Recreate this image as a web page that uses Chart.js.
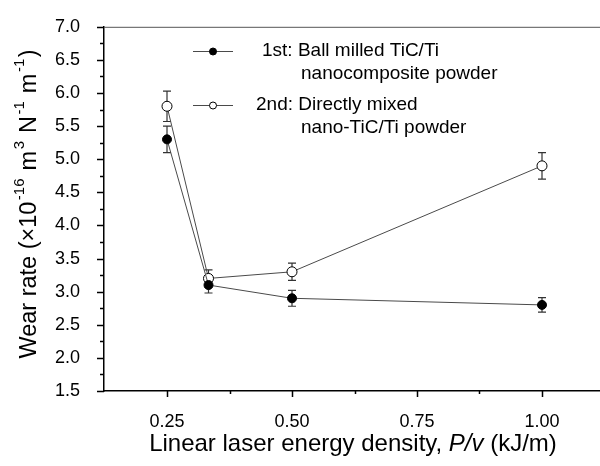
<!DOCTYPE html>
<html>
<head>
<meta charset="utf-8">
<script src="https://cdn.jsdelivr.net/npm/chart.js@4.4.1/dist/chart.umd.min.js"></script>
<style>
  html, body { margin: 0; padding: 0; background: #fff; }
  canvas { display: block; }
</style>
</head>
<body>
<canvas id="wearChart" width="600" height="466"></canvas>
<script>
// datos
const energyDensity = [0.25, 0.333, 0.5, 1.0];
const wearBallMilled = [5.3, 3.1, 2.9, 2.8];
const errBallMilled = [0.2, 0.12, 0.12, 0.11];
const wearDirectMix = [5.8, 3.2, 3.3, 4.9];
const errDirectMix = [0.23, 0.13, 0.13, 0.2];

const xTicks = [0.25, 0.5, 0.75, 1.0];
const xMinorTicks = [0.375, 0.625, 0.875];
const yTicks = [1.5, 2.0, 2.5, 3.0, 3.5, 4.0, 4.5, 5.0, 5.5, 6.0, 6.5, 7.0];
const yMinorTicks = [1.75, 2.25, 2.75, 3.25, 3.75, 4.25, 4.75, 5.25, 5.75, 6.25, 6.75];

const legendLines = [
    ['1st: Ball milled TiC/Ti', 'nanocomposite powder'],
    ['2nd: Directly mixed', 'nano-TiC/Ti powder']
];

const FONT = '"Liberation Sans", Arial, sans-serif';
const LINE_COLOR = '#4a4a4a';

function toPoints(xs, ys) {
    return xs.map((x, i) => ({ x: x, y: ys[i] }));
}

// barras de error, ticks, titulos y leyenda
const extrasPlugin = {
    id: 'extras',
    beforeDatasetsDraw(chart) {
        const ctx = chart.ctx;
        const xs = chart.scales.x, ys = chart.scales.y;
        const sets = [[wearBallMilled, errBallMilled], [wearDirectMix, errDirectMix]];
        ctx.save();
        ctx.strokeStyle = '#333';
        ctx.lineWidth = 1.2;
        sets.forEach(([vals, errs]) => {
            vals.forEach((v, i) => {
                const px = xs.getPixelForValue(energyDensity[i]);
                const top = ys.getPixelForValue(v + errs[i]);
                const bot = ys.getPixelForValue(v - errs[i]);
                ctx.beginPath();
                ctx.moveTo(px, top); ctx.lineTo(px, bot);
                ctx.moveTo(px - 4, top); ctx.lineTo(px + 4, top);
                ctx.moveTo(px - 4, bot); ctx.lineTo(px + 4, bot);
                ctx.stroke();
            });
        });
        ctx.restore();
    },
    afterDraw(chart) {
        const ctx = chart.ctx;
        const area = chart.chartArea;
        const xs = chart.scales.x, ys = chart.scales.y;
        ctx.save();

        // linea superior
        ctx.strokeStyle = '#555';
        ctx.lineWidth = 1;
        ctx.beginPath();
        ctx.moveTo(area.left, area.top + 0.5);
        ctx.lineTo(chart.width, area.top + 0.5);
        ctx.stroke();

        // ticks
        ctx.strokeStyle = '#000';
        ctx.lineWidth = 1.5;
        ctx.beginPath();
        yTicks.forEach(v => {
            const py = Math.round(ys.getPixelForValue(v)) + 0.5;
            ctx.moveTo(area.left - 7, py); ctx.lineTo(area.left, py);
        });
        yMinorTicks.forEach(v => {
            const py = Math.round(ys.getPixelForValue(v)) + 0.5;
            ctx.moveTo(area.left - 4, py); ctx.lineTo(area.left, py);
        });
        xTicks.forEach(v => {
            const px = Math.round(xs.getPixelForValue(v)) + 0.5;
            ctx.moveTo(px, area.bottom); ctx.lineTo(px, area.bottom + 6);
        });
        xMinorTicks.forEach(v => {
            const px = Math.round(xs.getPixelForValue(v)) + 0.5;
            ctx.moveTo(px, area.bottom); ctx.lineTo(px, area.bottom + 3);
        });
        ctx.stroke();

        // titulo eje x
        ctx.fillStyle = '#000';
        ctx.textBaseline = 'middle';
        const xParts = [
            { t: 'Linear laser energy density, ', f: '24px ' + FONT },
            { t: 'P/v', f: 'italic 24px ' + FONT },
            { t: ' (kJ/m)', f: '24px ' + FONT }
        ];
        let total = 0;
        xParts.forEach(p => { ctx.font = p.f; p.w = ctx.measureText(p.t).width; total += p.w; });
        let cx = 353 - total / 2;
        xParts.forEach(p => { ctx.font = p.f; ctx.textAlign = 'left'; ctx.fillText(p.t, cx, 444); cx += p.w; });

        // titulo eje y con superindices
        const yParts = [
            { t: 'Wear rate (\u00d710', s: false },
            { t: '-16', s: true },
            { t: ' m', s: false },
            { t: '3', s: true },
            { t: ' N', s: false },
            { t: '-1', s: true },
            { t: ' m', s: false },
            { t: '-1', s: true },
            { t: ')', s: false }
        ];
        total = 0;
        yParts.forEach(p => {
            ctx.font = (p.s ? '15px ' : '23.5px ') + FONT;
            p.w = ctx.measureText(p.t).width + (p.s ? 3 : 0);
            total += p.w;
        });
        ctx.translate(30, 204);
        ctx.rotate(-Math.PI / 2);
        cx = -total / 2;
        yParts.forEach(p => {
            ctx.font = (p.s ? '15px ' : '23.5px ') + FONT;
            ctx.fillText(p.t, cx + (p.s ? 1.5 : 0), p.s ? -10 : 0);
            cx += p.w;
        });
        ctx.setTransform(1, 0, 0, 1, 0, 0);

        // leyenda
        const lx = area.left + 89;
        const rows = [51, 105];
        ctx.font = '19px ' + FONT;
        ctx.textBaseline = 'middle';
        rows.forEach((ry, i) => {
            ctx.strokeStyle = LINE_COLOR;
            ctx.lineWidth = 1;
            ctx.beginPath();
            ctx.moveTo(lx, ry + 0.5); ctx.lineTo(lx + 40, ry + 0.5);
            ctx.stroke();
            ctx.beginPath();
            ctx.arc(lx + 20, ry + 0.5, 3.5, 0, Math.PI * 2);
            ctx.fillStyle = i === 0 ? '#000' : '#fff';
            ctx.fill();
            ctx.strokeStyle = '#000';
            ctx.stroke();
            ctx.fillStyle = '#000';
            ctx.fillText(legendLines[i][0], i === 0 ? lx + 69 : lx + 63, ry);
            ctx.fillText(legendLines[i][1], lx + 108, ry + 23);
        });
        ctx.restore();
    }
};

new Chart(document.getElementById('wearChart'), {
    type: 'scatter',
    data: {
        datasets: [
            {
                label: legendLines[0].join(' '),
                data: toPoints(energyDensity, wearBallMilled),
                showLine: true,
                borderColor: LINE_COLOR,
                borderWidth: 1,
                pointRadius: 4.5,
                pointBackgroundColor: '#000',
                pointBorderColor: '#000',
                pointBorderWidth: 1
            },
            {
                label: legendLines[1].join(' '),
                data: toPoints(energyDensity, wearDirectMix),
                showLine: true,
                borderColor: LINE_COLOR,
                borderWidth: 1,
                pointRadius: 5,
                pointBackgroundColor: '#fff',
                pointBorderColor: '#000',
                pointBorderWidth: 1
            }
        ]
    },
    options: {
        responsive: false,
        animation: false,
        layout: { autoPadding: false, padding: { top: 20, right: 0, left: 0, bottom: 0 } },
        plugins: {
            legend: { display: false },
            tooltip: { enabled: false }
        },
        scales: {
            x: {
                type: 'linear',
                min: 0.124,
                max: 1.116,
                grid: { display: false },
                border: { display: true, color: '#000', width: 1.5 },
                afterBuildTicks: s => { s.ticks = xTicks.map(v => ({ value: v })); },
                afterFit: s => { s.height = 75; },
                ticks: {
                    padding: 12,
                    color: '#000',
                    font: { family: FONT, size: 18 },
                    callback: v => v.toFixed(2)
                }
            },
            y: {
                min: 1.5,
                max: 7.0,
                grid: { display: false },
                border: { display: true, color: '#000', width: 1.5 },
                afterBuildTicks: s => { s.ticks = yTicks.map(v => ({ value: v })); },
                afterFit: s => { s.width = 104; },
                ticks: {
                    padding: 16,
                    color: '#000',
                    font: { family: FONT, size: 18 },
                    callback: v => v.toFixed(1)
                }
            }
        }
    },
    plugins: [extrasPlugin]
});
</script>
</body>
</html>
